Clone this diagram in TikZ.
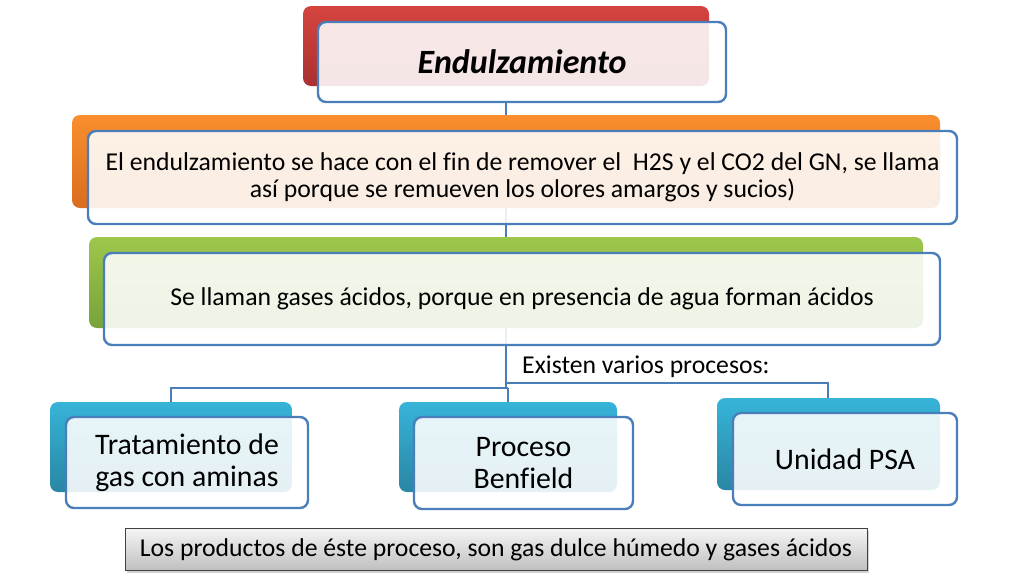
\documentclass[tikz,border=0pt]{standalone}
\usepackage{fontspec}
\setmainfont{Carlito}[Ligatures=NoCommon]
\usetikzlibrary{shadows}
\definecolor{bordblue}{HTML}{4A7EBB}
\definecolor{redtop}{HTML}{D5443F}
\definecolor{redbot}{HTML}{A93131}
\definecolor{orgtop}{HTML}{F98E2E}
\definecolor{orgbot}{HTML}{D86E1E}
\definecolor{grntop}{HTML}{9DC74B}
\definecolor{grnbot}{HTML}{78A33A}
\definecolor{blutop}{HTML}{36B4D8}
\definecolor{blubot}{HTML}{2A86A4}
\tikzset{
  backbox/.style={rectangle, rounded corners=8pt, draw=none, inner sep=0pt},
  frontbox/.style={rectangle, rounded corners=8pt, draw=bordblue, line width=2.4pt,
    fill=white, fill opacity=0.88, draw opacity=1, text opacity=1, inner sep=0pt, align=center},
  conn/.style={draw=bordblue, line width=2.2pt},
}
\begin{document}
\begin{tikzpicture}[x=1pt,y=-1pt]
\useasboundingbox (0,0) rectangle (1024,576);
% connector coordinates
\coordinate (topb) at (506,102);
\coordinate (r1) at (828,383);
\coordinate (r0) at (506,383);
\coordinate (r2) at (828,398);
\coordinate (l1) at (171,388);
\coordinate (l2) at (171,402);
\coordinate (b1) at (508,388);
\coordinate (b2) at (508,402);
\coordinate (m1) at (506,388);
% connectors (behind all boxes)
\draw[conn] (topb) -- (m1);
\draw[conn] (r0) -- (r1) -- (r2);
\draw[conn] (b1) -- (l1) -- (l2);
\draw[conn] (b1) -- (b2);
% back boxes
\node[backbox, top color=redtop, bottom color=redbot, minimum width=406pt, minimum height=80pt] (rb) at (506,46) {};
\node[backbox, top color=orgtop, bottom color=orgbot, minimum width=868pt, minimum height=93pt] (ob) at (506,161.5) {};
\node[backbox, top color=grntop, bottom color=grnbot, minimum width=834pt, minimum height=91pt] (gb) at (506,282.5) {};
\node[backbox, top color=blutop, bottom color=blubot, minimum width=242pt, minimum height=90pt] (t1b) at (171,447) {};
\node[backbox, top color=blutop, bottom color=blubot, minimum width=218pt, minimum height=90pt] (t2b) at (508,447) {};
\node[backbox, top color=blutop, bottom color=blubot, minimum width=223pt, minimum height=92pt] (t3b) at (828.5,444) {};
% front boxes
\node[frontbox, minimum width=408pt, minimum height=80pt, font=\fontsize{34}{40}\selectfont\bfseries\itshape] (rf) at (522,62) {Endulzamiento};
\node[frontbox, minimum width=869pt, minimum height=93pt, font=\fontsize{25.7}{27}\selectfont] (of) at (522.5,177.5) {El endulzamiento se hace con el fin de remover el~ H2S y el CO2 del GN, se llama\\así porque se remueven los olores amargos y sucios)};
\node[frontbox, minimum width=836pt, minimum height=92pt, font=\fontsize{25.7}{27}\selectfont] (gf) at (522,299) {Se llaman gases ácidos, porque en presencia de agua forman ácidos};
\node[frontbox, minimum width=242pt, minimum height=91pt, font=\fontsize{29.8}{32}\selectfont] (t1f) at (187,462.5) {Tratamiento de\\gas con aminas};
\node[frontbox, minimum width=219pt, minimum height=92pt, font=\fontsize{29.8}{32}\selectfont] (t2f) at (523.5,463) {Proceso\\Benfield};
\node[frontbox, minimum width=224pt, minimum height=92pt, font=\fontsize{29.8}{32}\selectfont] (t3f) at (845,459) {Unidad PSA};
% label
\node[anchor=west, inner sep=1pt, font=\fontsize{25.7}{30}\selectfont] (lab) at (521,367) {Existen varios procesos:};
% bottom box
\node[rectangle, draw=black!75, line width=1pt, top color=white!96!black, bottom color=black!25,
  drop shadow={shadow xshift=2pt, shadow yshift=-2pt, opacity=0.35},
  minimum width=742pt, minimum height=42pt, inner sep=0pt, font=\fontsize{25.7}{30}\selectfont] (bot) at (496,549.5) {Los productos de éste proceso, son gas dulce húmedo y gases ácidos};
\end{tikzpicture}
\end{document}
